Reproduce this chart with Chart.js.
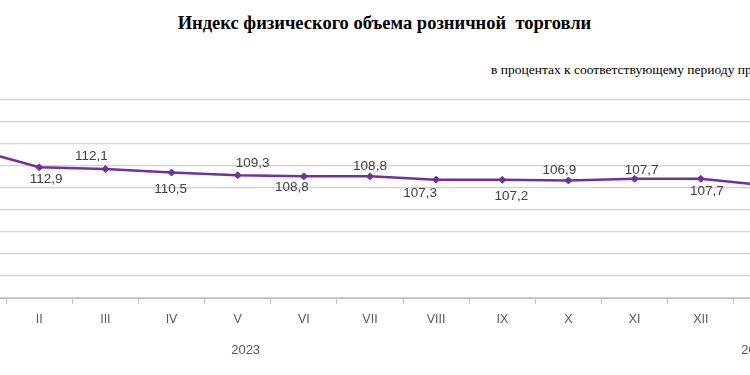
<!DOCTYPE html>
<html>
<head>
<meta charset="utf-8">
<script src="https://cdn.jsdelivr.net/npm/chart.js@4"></script>
<style>
  html, body { margin:0; padding:0; width:750px; height:375px; overflow:hidden; background:#fff; }
  #title { position:absolute; left:0; top:14px; width:769px; text-align:center; font:bold 18.5px "Liberation Serif", serif; line-height:18px; color:#000; white-space:nowrap; }
  #subtitle { position:absolute; left:491px; top:63px; font:13.5px "Liberation Serif", serif; line-height:13px; color:#000; white-space:nowrap; }
  #c { position:absolute; left:-65px; top:0; }
</style>
</head>
<body>
<div id="title">Индекс физического объема розничной&nbsp; торговли</div>
<div id="subtitle">в процентах к соответствующему периоду предыдущего года</div>
<canvas id="c" width="870" height="375"></canvas>
<script>
// Data
const months = ['I','II','III','IV','V','VI','VII','VIII','IX','X','XI','XII','I'];
const values = [121.2, 112.9, 112.1, 110.5, 109.3, 108.8, 108.8, 107.3, 107.2, 106.9, 107.7, 107.7, 104.6];
const years = ['2023', '2024'];
const yearPos = [4.12, 11.83];          // category index where each year label is centred
const gridTicks = [53.5, 63.5, 73.5, 83.5, 93.5, 103.5, 113.5, 123.5, 133.5, 143.5];

// label offsets (pixels), null = no label
const labelDx = [null, 7, -14, -1, 15, -12, 0, -16, 9, -9, 7, 6, null];
const labelDy = [null, 12, -13, 17, -12, 11, -10, 14, 16, -10, -8, 13, null];

const purple = '#7030A0';

const valueLabels = {
  id: 'valueLabels',
  afterDatasetsDraw(chart) {
    const ctx = chart.ctx;
    const meta = chart.getDatasetMeta(0);
    ctx.save();
    ctx.font = '13.5px "Liberation Sans", sans-serif';
    ctx.fillStyle = '#404040';
    ctx.textAlign = 'center';
    ctx.textBaseline = 'middle';
    meta.data.forEach((pt, i) => {
      if (labelDy[i] === null) return;
      const txt = values[i].toFixed(1).replace('.', ',');
      ctx.fillText(txt, pt.x + labelDx[i], pt.y + labelDy[i]);
    });
    ctx.restore();
  }
};

new Chart(document.getElementById('c'), {
  type: 'line',
  data: {
    labels: months,
    datasets: [{
      data: values,
      borderColor: purple,
      backgroundColor: purple,
      borderWidth: 2.5,
      pointStyle: 'rectRot',
      pointRadius: 3.5,
      pointBorderWidth: 1,
      tension: 0,
      xAxisID: 'x',
      yAxisID: 'y'
    }]
  },
  options: {
    responsive: false,
    animation: false,
    events: [],
    layout: { padding: { top: 100, bottom: 0, left: 0, right: 0 } },
    plugins: { legend: { display: false }, tooltip: { enabled: false }, title: { display: false } },
    scales: {
      x: {
        type: 'category',
        position: 'bottom',
        offset: true,
        grid: { display: true, drawOnChartArea: false, drawTicks: true, tickLength: 6, offset: true, color: '#bfbfbf', lineWidth: 1 },
        border: { display: true, color: '#bfbfbf', width: 1 },
        ticks: { color: '#595959', font: { family: '"Liberation Sans", sans-serif', size: 12.5 }, padding: 8, maxRotation: 0, autoSkip: false },
        afterFit(axis) { axis.height = 26; }
      },
      x2: {
        type: 'linear',
        position: 'bottom',
        min: -0.5,
        max: months.length - 0.5,
        grid: { display: false, drawTicks: false },
        border: { display: false },
        afterBuildTicks(axis) { axis.ticks = yearPos.map(v => ({ value: v })); },
        ticks: {
          color: '#595959',
          font: { family: '"Liberation Sans", sans-serif', size: 13 },
          padding: 19,
          maxRotation: 0,
          autoSkip: false,
          callback(value, index) { return years[index]; }
        },
        afterFit(axis) { axis.height = 51; }
      },
      y: {
        type: 'linear',
        min: gridTicks[0],
        max: gridTicks[gridTicks.length - 1],
        afterBuildTicks(axis) { axis.ticks = gridTicks.map(v => ({ value: v })); },
        ticks: { display: false },
        grid: { color: '#d0d0d0', lineWidth: 1.3, drawTicks: false },
        border: { display: false }
      }
    }
  },
  plugins: [valueLabels]
});
</script>
</body>
</html>
